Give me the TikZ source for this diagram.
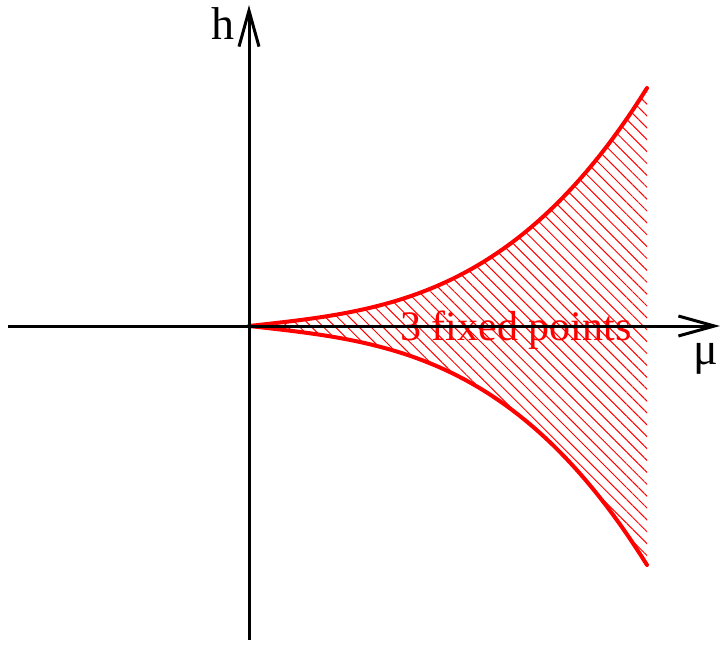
\documentclass[tikz,border=0pt]{standalone}
\usepackage{fontspec}
\setmainfont{Liberation Serif}
\usetikzlibrary{arrows.meta, patterns.meta}
\definecolor{cCusp}{RGB}{255,0,0}

\begin{document}
\begin{tikzpicture}[x=0.5pt, y=0.5pt, font=\fontsize{21}{24}\selectfont,
	declare function={cusp(\u)=0.1859*\u-0.0454*\u^2+0.8595*\u^3;},
	axis/.style={line width=1.5pt, -{Straight Barb[length=18pt, width=10pt]}},
	branch/.style={cCusp, line width=2pt, line cap=round, line join=round},
	axlabel/.style={font=\fontsize{23}{26}\selectfont}]
	\useasboundingbox (-249,-319) rectangle (473,326);
	% hatched region between the two branches
	\fill[pattern={Lines[angle=-45, distance=4.2pt, line width=0.5pt]}, pattern color=cCusp]
		plot[domain=0:398, samples=60] (\x,{238*cusp(\x/398)})
		-- plot[domain=398:0, samples=60] (\x,{-239*cusp(\x/398)}) -- cycle;
	\draw[branch] plot[domain=0:398, samples=60] (\x,{238*cusp(\x/398)});
	\draw[branch] plot[domain=0:398, samples=60] (\x,{-239*cusp(\x/398)});
	\node[cCusp, anchor=base] (fixlab) at (267,-14) {3 fixed points};
	% axes
	\coordinate (xl) at (-241,0);
	\coordinate (xr) at (471,0);
	\coordinate (yb) at (0,-314);
	\coordinate (yt) at (0,321);
	\draw[axis] (xl) -- (xr);
	\draw[axis] (yb) -- (yt);
	\node[axlabel] (hlab) at (-26,302) {h};
	\node[axlabel] (mulab) at (457,-33) {μ};
\end{tikzpicture}
\end{document}
